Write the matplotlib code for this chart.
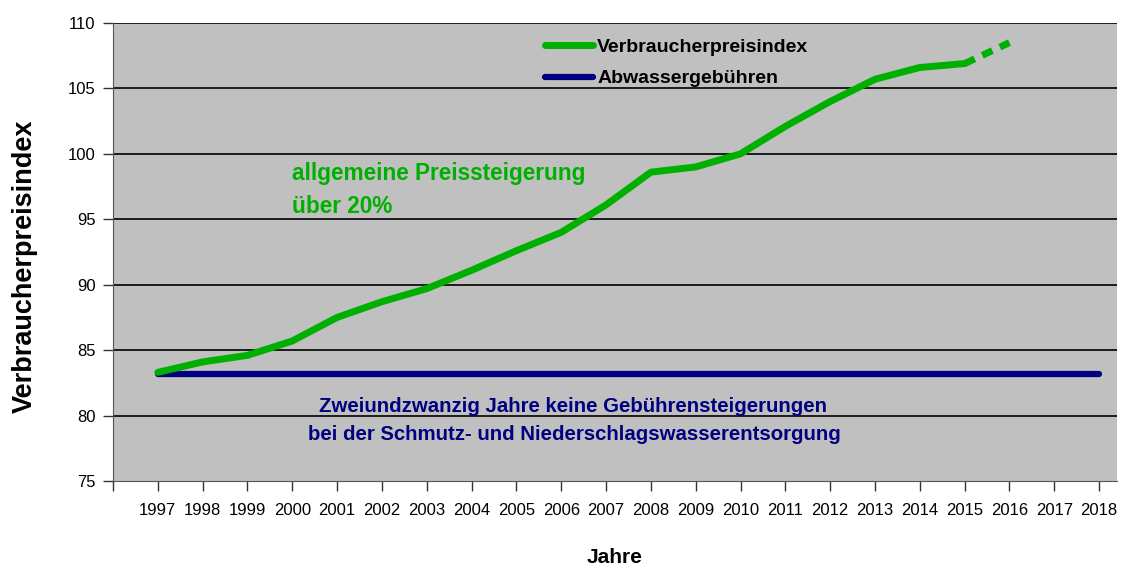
import matplotlib
matplotlib.use("Agg")
import matplotlib.pyplot as plt

years = list(range(1997, 2017))
vpi = [83.3, 84.1, 84.6, 85.7, 87.5, 88.7, 89.7, 91.1, 92.6, 94.0,
       96.1, 98.6, 99.0, 100.0, 102.1, 104.0, 105.7, 106.6, 106.9, 108.5]
abw_years = list(range(1997, 2019))
abw = [83.2] * len(abw_years)
tick_years = list(range(1996, 2019))
tick_labels = [""] + [str(y) for y in range(1997, 2019)]

plt.rcParams['font.family'] = ['Liberation Sans', 'DejaVu Sans']

fig = plt.figure(figsize=(11.32, 5.65), dpi=100)
ax = fig.add_axes([0.0998, 0.1487, 0.887, 0.8106])
ax.set_facecolor('#c0c0c0')

ax.set_ylim(75, 110)
ax.set_xlim(1996, 2018.4)
ax.set_yticks(range(75, 111, 5))
ax.set_xticks(tick_years)
ax.set_xticklabels(tick_labels)
for yv in range(80, 111, 5):
    ax.axhline(yv, color='black', lw=1.2, zorder=1)

green = '#00b000'
blue = '#000080'
ax.plot(abw_years, abw, color=blue, lw=4.5, solid_capstyle='round', zorder=3, label='Abwassergebühren')
ax.plot(years[:-1], vpi[:-1], color=green, lw=5, solid_capstyle='round', zorder=4, label='Verbraucherpreisindex')
ax.plot(years[-2:], vpi[-2:], color=green, lw=5, ls=(0, (1.6, 1.2)), zorder=4)

handles, labels = ax.get_legend_handles_labels()
leg = ax.legend(handles[::-1], labels[::-1], loc='upper left', bbox_to_anchor=(0.413, 1.005),
                frameon=False, handlelength=2.47, handletextpad=0.2, labelspacing=0.72,
                prop={'weight': 'bold', 'size': 14})

tkw = dict(fontweight='bold', va='baseline')
ax.text(1999.99, 98.0, "allgemeine Preissteigerung", color=green, ha='left', fontsize=16.3, **tkw)
ax.text(1999.99, 95.48, "über 20%", color=green, ha='left', fontsize=16.3, **tkw)
ax.text(2006.27, 80.27, "Zweiundzwanzig Jahre keine Gebührensteigerungen", color=blue, ha='center', fontsize=14.7, **tkw)
ax.text(2006.3, 78.13, "bei der Schmutz- und Niederschlagswasserentsorgung", color=blue, ha='center', fontsize=14.7, **tkw)

for s in ['top', 'right']:
    ax.spines[s].set_visible(False)
ax.spines['left'].set_color('#555555')
ax.spines['bottom'].set_color('#555555')
ax.tick_params(axis='both', colors='#333333', labelcolor='black', length=7.5, width=1, labelsize=12)
ax.tick_params(axis='x', pad=8)
ax.tick_params(axis='y', pad=5)

ax.set_ylabel("Verbraucherpreisindex", fontsize=19.5, fontweight='bold')
ax.yaxis.set_label_coords(-0.0745, 0.469)
ax.set_xlabel("Jahre", fontsize=15, fontweight='bold', labelpad=22)

fig.savefig("out.png", dpi=100)
